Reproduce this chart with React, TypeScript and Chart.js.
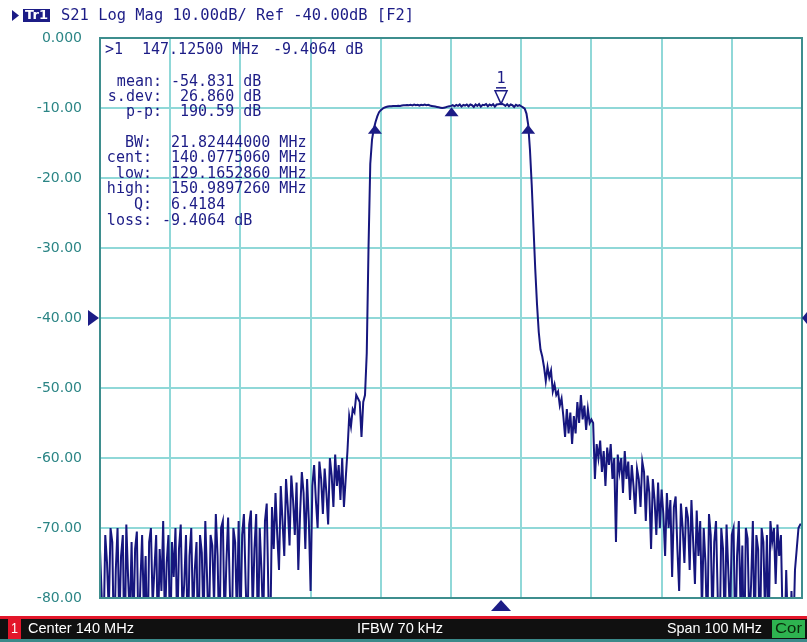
import React, { useEffect, useRef } from 'react';
import { Chart, registerables } from 'chart.js';

Chart.register(...registerables);

// Sweep: Center 140 MHz, Span 100 MHz, 401 points
const START_MHZ = 90;
const STOP_MHZ = 190;
const X_TICK_STEP = 10;
const Y_MIN = -80;
const Y_MAX = 0;
const Y_TICK_STEP = 10;

// S21 trace (dB)
const lowerStopbandDb = [
  -73, -80, -86, -71, -75, -82, -70, -72, -88, -76,
  -70, -84, -74, -71, -90, -69.5, -77, -83, -72, -85,
  -73, -70.5, -87, -78, -71, -82, -74, -89, -72, -70,
  -81, -76, -71, -86, -73, -79, -69, -84, -75, -71,
  -88, -72, -77, -70, -85, -73, -69.5, -82, -78, -71,
  -87, -74, -70, -83, -76, -72, -90, -71, -73.5, -84,
  -69, -77, -86, -71, -72.5, -81, -68, -74, -87, -70,
  -69, -84, -75, -68.5, -79, -88, -70, -72, -83, -69,
  -85, -71, -68, -78, -86, -69.5, -67.5, -82, -73, -68,
  -87, -70, -76, -84, -69, -66.5, -80, -86, -67, -73,
  -65, -71, -76, -64, -69, -74, -63, -67, -72.5, -62.5,
  -66, -71, -63.5, -76, -68, -62, -65, -73, -63, -69,
  -79, -64, -61, -66, -70, -60.5, -63, -68, -61.5, -65,
  -69.5, -60, -62.5, -67, -59.5, -64, -61, -66, -60, -67,
  -63, -59, -54, -55.5, -53, -53.5, -51, -51.5, -52, -57,
  -52, -51,
];
const passbandDb = [
  -45, -30, -18, -14.5, -13, -12, -11.2, -10.6, -10.3, -10.1,
  -9.95, -9.85, -9.8, -9.75, -9.75, -9.7, -9.7, -9.72, -9.68,
  -9.7, -9.65, -9.6, -9.62, -9.58, -9.6, -9.55, -9.62, -9.5,
  -9.6, -9.55, -9.65, -9.55, -9.6, -9.5, -9.6, -9.55, -9.65, -9.7,
  -9.75, -9.8, -9.85, -9.9, -9.95, -10.0, -9.95, -9.9, -9.8, -9.75,
  -9.7, -9.6, -9.75, -9.55, -9.7, -9.5, -9.8, -9.55, -9.65, -9.5,
  -9.75, -9.5, -9.6, -9.85, -9.5, -9.7, -9.45, -9.8, -9.55, -9.6,
  -9.45, -9.75, -9.5, -9.65, -9.45, -9.8, -9.5, -9.45, -9.42, -9.4,
  -9.5, -9.7, -9.45, -9.75, -9.5, -9.6, -9.85, -9.55, -9.7, -9.6,
  -9.75, -9.9, -10.1, -10.8, -12.4,
];
const upperStopbandDb = [
  -16, -21, -27, -33, -38, -42, -44.5, -45.5, -47, -49,
  -47, -48.5, -47.5, -50.5, -49.5, -51, -50.5, -52.5, -51.5, -54,
  -57, -53, -56.5, -53.5, -58, -54, -56.5,
  -52, -55, -51, -54.5, -52.5, -56, -53, -55,
  -54.5, -55, -63, -58, -60, -57.5, -62, -59, -64, -58.5,
  -61, -58, -63, -60, -72, -59.5, -62, -60, -65, -59,
  -63, -60.5, -66, -61, -64, -68, -61.5, -63, -67, -60.5,
  -62, -69, -62.5, -65, -73, -63, -66, -71, -63.5, -70,
  -64.5, -68, -74, -65, -70, -66, -77, -67, -65.5, -73,
  -79, -66.5, -70, -75, -67, -68.5, -76, -66, -72, -78,
  -67.5, -74, -69,
  -82, -70, -75, -86, -68, -71, -84, -72, -69, -80,
  -88, -70, -73, -85, -69.5, -76, -83, -71, -70, -87,
  -74, -69, -82, -72.5, -90, -70, -71.5, -84, -78, -69,
  -86, -71, -73, -88, -70, -72, -83, -71,
  -85, -69, -72, -70, -78, -69.5, -74, -71, -84,
  -88, -76, -85, -90, -79, -86, -76, -73,
  -70, -69.5, -69.5,
];
const s21Db = [...lowerStopbandDb, ...passbandDb, ...upperStopbandDb];
const freqMHz = s21Db.map((_, i) => START_MHZ + (i * (STOP_MHZ - START_MHZ)) / (s21Db.length - 1));

// Markers
const marker1 = { freq: 147.125, db: -9.4064 };
const filterMarkers = [
  { freq: 129.165286, db: -12.4064 },
  { freq: 140.077506, db: -9.9 },
  { freq: 150.989726, db: -12.4064 },
];
const REF_LEVEL = -40;

const headerText = 'S21 Log Mag 10.00dB/ Ref -40.00dB [F2]';
const markerReadout = ['>1', '147.12500 MHz', '-9.4064 dB'];
const statsLabels = ['mean:', 's.dev:', 'p-p:'];
const statsValues = ['-54.831 dB', '26.860 dB', '190.59 dB'];
const filterLabels = ['BW:', 'cent:', 'low:', 'high:', 'Q:', 'loss:'];
const filterValues = ['21.82444000 MHz', '140.0775060 MHz', '129.1652860 MHz', '150.9897260 MHz', '6.4184', '-9.4064 dB'];
const footer = { channel: '1', center: 'Center 140 MHz', ifbw: 'IFBW 70 kHz', span: 'Span 100 MHz', cor: 'Cor' };

const NAVY = '#1c1c86';
const TRACE = '#16167e';
const TEAL_TEXT = '#2b8585';
const GRID = '#90d8d8';
const FRAME = '#3e8e8e';
const MONO = '"DejaVu Sans Mono", monospace';

function fitText(ctx: CanvasRenderingContext2D, text: string, x: number, y: number, w: number) {
  const m = ctx.measureText(text).width;
  ctx.save();
  ctx.translate(x, y);
  ctx.scale(w / m, 1);
  ctx.textAlign = 'left';
  ctx.fillText(text, 0, 0);
  ctx.restore();
}

const vnaPlugin = {
  id: 'vna',
  beforeDraw(chart: any) {
    const ctx = chart.ctx;
    ctx.save();
    ctx.fillStyle = '#ffffff';
    ctx.fillRect(0, 0, chart.width, chart.height);
    ctx.restore();
  },
  afterDraw(chart: any) {
    const { ctx, chartArea: a } = chart;
    const xs = chart.scales.x;
    const ys = chart.scales.y;
    ctx.save();

    // frame
    ctx.strokeStyle = FRAME;
    ctx.lineWidth = 2;
    ctx.strokeRect(a.left, a.top, a.right - a.left, a.bottom - a.top);

    // header
    ctx.fillStyle = NAVY;
    ctx.beginPath();
    ctx.moveTo(12, 10); ctx.lineTo(19, 15.5); ctx.lineTo(12, 21); ctx.closePath();
    ctx.fill();
    ctx.fillRect(23, 9, 27, 13);
    ctx.fillStyle = '#ffffff';
    ctx.font = 'bold 12px "DejaVu Sans", sans-serif';
    ctx.textBaseline = 'middle';
    fitText(ctx, 'Tr1', 25, 15.5, 23);
    ctx.fillStyle = NAVY;
    ctx.font = `15px ${MONO}`;
    fitText(ctx, headerText, 61, 16, 353);

    // marker readout and statistics
    ctx.font = `15px ${MONO}`;
    ctx.textBaseline = 'middle';
    ctx.textAlign = 'left';
    ctx.fillText(markerReadout[0], 105, 50);
    ctx.fillText(markerReadout[1], 142, 50);
    ctx.fillText(markerReadout[2], 273, 50);
    const statsY = [82, 97, 112];
    const statsX = [171, 180, 180];
    statsLabels.forEach((l, i) => {
      ctx.textAlign = 'right';
      ctx.fillText(l, 162, statsY[i]);
      ctx.textAlign = 'left';
      ctx.fillText(statsValues[i], statsX[i], statsY[i]);
    });
    const filtY = [143, 158, 174, 189, 205, 221];
    filterLabels.forEach((l, i) => {
      ctx.textAlign = 'right';
      ctx.fillText(l, 152, filtY[i]);
      ctx.textAlign = 'left';
      ctx.fillText(filterValues[i], i === 5 ? 162 : 171, filtY[i]);
    });

    // filter markers (filled up triangles)
    ctx.fillStyle = NAVY;
    filterMarkers.forEach((m) => {
      const px = xs.getPixelForValue(m.freq);
      const py = ys.getPixelForValue(m.db);
      ctx.beginPath();
      ctx.moveTo(px, py);
      ctx.lineTo(px + 7, py + 9);
      ctx.lineTo(px - 7, py + 9);
      ctx.closePath();
      ctx.fill();
    });

    // marker 1 (hollow down triangle)
    const m1x = xs.getPixelForValue(marker1.freq);
    const m1y = ys.getPixelForValue(marker1.db);
    ctx.strokeStyle = NAVY;
    ctx.lineWidth = 1.5;
    ctx.beginPath();
    ctx.moveTo(m1x - 6, m1y - 13);
    ctx.lineTo(m1x + 6, m1y - 13);
    ctx.lineTo(m1x, m1y);
    ctx.closePath();
    ctx.stroke();
    ctx.beginPath();
    ctx.moveTo(m1x - 5, m1y - 16);
    ctx.lineTo(m1x + 5, m1y - 16);
    ctx.stroke();
    ctx.font = `15px ${MONO}`;
    ctx.textAlign = 'center';
    ctx.fillStyle = NAVY;
    ctx.fillText('1', m1x, m1y - 25);

    // marker position indicator at bottom
    ctx.beginPath();
    ctx.moveTo(m1x, a.bottom + 2);
    ctx.lineTo(m1x + 10, a.bottom + 13);
    ctx.lineTo(m1x - 10, a.bottom + 13);
    ctx.closePath();
    ctx.fill();

    // reference level indicators
    const ry = ys.getPixelForValue(REF_LEVEL);
    ctx.beginPath();
    ctx.moveTo(88, ry - 8); ctx.lineTo(99, ry); ctx.lineTo(88, ry + 8); ctx.closePath();
    ctx.fill();
    ctx.beginPath();
    ctx.moveTo(chart.width, ry - 6); ctx.lineTo(chart.width - 5, ry); ctx.lineTo(chart.width, ry + 6); ctx.closePath();
    ctx.fill();

    // footer bar
    ctx.fillStyle = '#e3162a';
    ctx.fillRect(0, 616, chart.width, 3);
    ctx.fillStyle = '#101010';
    ctx.fillRect(0, 619, chart.width, 20);
    ctx.fillStyle = '#3b8a8a';
    ctx.fillRect(0, 639, chart.width, 3);
    ctx.fillStyle = '#e3162a';
    ctx.fillRect(8, 619, 13, 20);
    ctx.fillStyle = '#2eb350';
    ctx.fillRect(772, 620, 33, 18);
    ctx.font = '15px "Liberation Sans", sans-serif';
    ctx.textBaseline = 'middle';
    ctx.fillStyle = '#ffffff';
    fitText(ctx, footer.channel, 11, 629, 7);
    fitText(ctx, footer.center, 28, 629, 106);
    fitText(ctx, footer.ifbw, 357, 629, 86);
    fitText(ctx, footer.span, 667, 629, 95);
    ctx.fillStyle = '#0a2a0a';
    fitText(ctx, footer.cor, 775, 629, 27);

    ctx.restore();
  },
};

export default function App() {
  const ref = useRef<HTMLCanvasElement>(null);
  useEffect(() => {
    document.body.style.margin = '0';
    const canvas = ref.current!;
    const chart = new Chart(canvas, {
      type: 'line',
      data: {
        datasets: [
          {
            label: 'S21',
            data: freqMHz.map((f, i) => ({ x: f, y: s21Db[i] })),
            borderColor: TRACE,
            borderWidth: 2,
            pointRadius: 0,
            tension: 0,
            fill: false,
          },
        ],
      },
      options: {
        animation: false,
        responsive: false,
        devicePixelRatio: 1,
        layout: { padding: { top: 38, right: 5, left: 0, bottom: 0 } },
        plugins: { legend: { display: false }, tooltip: { enabled: false } },
        scales: {
          x: {
            type: 'linear',
            min: START_MHZ,
            max: STOP_MHZ,
            ticks: { display: false, stepSize: X_TICK_STEP },
            grid: { color: GRID, lineWidth: 2, drawTicks: false },
            border: { display: false },
            afterFit: (s: any) => { s.height = 44; },
          },
          y: {
            min: Y_MIN,
            max: Y_MAX,
            ticks: {
              stepSize: Y_TICK_STEP,
              padding: 18,
              color: TEAL_TEXT,
              font: { family: '"DejaVu Sans", sans-serif', size: 14 },
              callback: (v: any) => (Number(v) === 0 ? '0.000' : Number(v).toFixed(2)),
            },
            grid: { color: GRID, lineWidth: 2, drawTicks: false },
            border: { display: false },
            afterFit: (s: any) => { s.width = 100; },
          },
        },
      },
      plugins: [vnaPlugin],
    });
    return () => chart.destroy();
  }, []);
  return (
    <div style={{ width: 807, height: 642 }}>
      <canvas ref={ref} width={807} height={642} style={{ display: 'block' }} />
    </div>
  );
}
